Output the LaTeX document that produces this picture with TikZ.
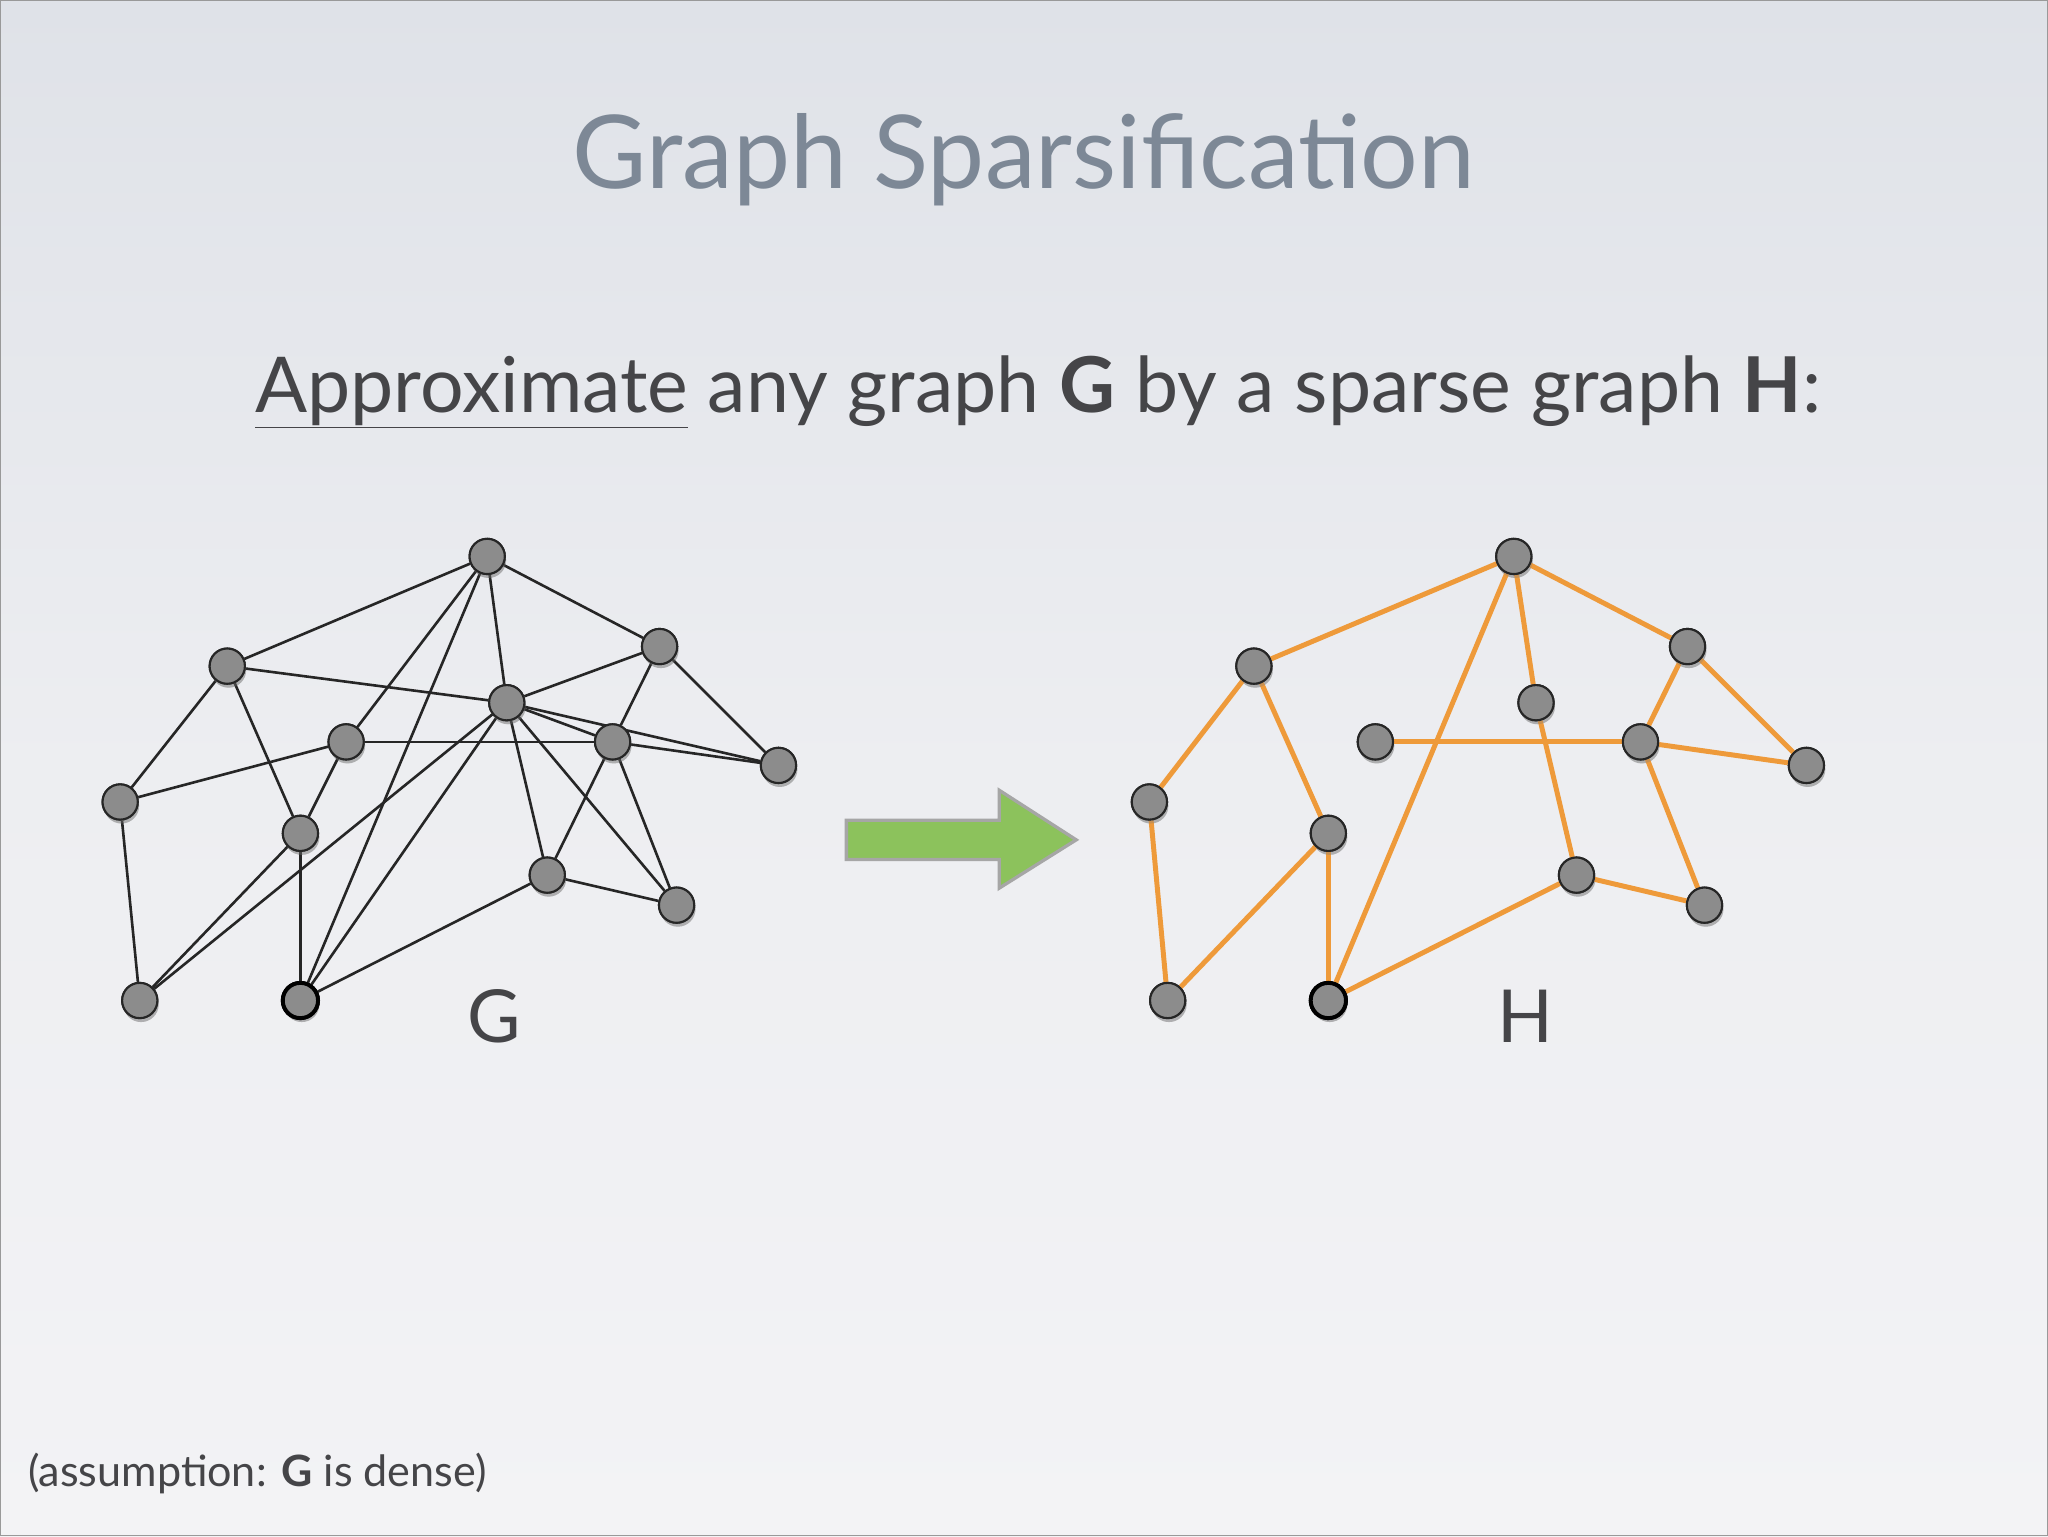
\documentclass[tikz,border=0pt]{standalone}
\usepackage{fontspec}
\setmainfont{Lato}
\usetikzlibrary{shadows}
\definecolor{titlec}{HTML}{7D8896}
\definecolor{textc}{HTML}{454548}
\definecolor{orng}{HTML}{EE9A3A}
\definecolor{grn}{HTML}{8CC25C}
\definecolor{bgtop}{HTML}{DFE2E8}
\definecolor{bgbot}{HTML}{F3F3F5}
\begin{document}
\begin{tikzpicture}[x=1pt,y=-1pt,
  vert/.style={circle,minimum size=27pt,inner sep=0pt,fill=black!45,draw=black!85,line width=1.6pt,
    drop shadow={shadow xshift=1pt,shadow yshift=-3pt,opacity=0.35}},
  vertb/.style={vert,line width=3pt,draw=black},
  ge/.style={line width=2pt,draw=black!85},
  he/.style={line width=3.8pt,draw=orng}]
\shade[top color=bgtop,bottom color=bgbot,middle color=bgbot!70!bgtop] (0,0) rectangle (1568,1176);
\draw[black!40,line width=1pt] (0.5,0.5) rectangle (1567.5,1175.5);
\useasboundingbox (0,0) rectangle (1568,1176);
\node[text=titlec,font=\fontsize{78}{90}\selectfont] (title) at (784,122) {Graph Sparsification};
\node[text=textc,font=\fontsize{59}{70}\selectfont] (sub) at (795,300) {\underline{Approximate} any graph \textbf{G} by a sparse graph \textbf{H}:};
\node[text=textc,font=\fontsize{33}{40}\selectfont,anchor=west] (note) at (18,1128) {(assumption: \textbf{G} is dense)};
% Graph G
\foreach \n/\x/\y in {a/373/426,b/174/510,c/505/495,d/388/538,e/265/568,f/469/568,g/596/586,h/92/614,i/230/638,j/419/670,k/518/693,l/107/766}
  \node[vert] (\n) at (\x,\y) {};
\node[vertb] (m) at (230,766) {};
\foreach \u/\v in {a/b,a/c,a/d,a/e,a/m,d/m,d/l,i/l,b/d,b/h,b/i,c/d,c/f,c/g,d/f,d/g,d/j,d/k,e/f,e/h,e/i,f/g,f/j,f/k,j/k,j/m,h/l,i/m}
  \draw[ge] (\u) -- (\v);
\foreach \n in {a,b,c,d,e,f,g,h,i,j,k,l}
  \node[vert] at (\n) {};
\node[vertb] at (m) {};
\node[text=textc,font=\fontsize{56}{60}\selectfont] (G) at (378,778) {G};
% Arrow
\draw[fill=grn,draw=black!35,line width=2.5pt] (648,628) -- (765,628) -- (765,605) -- (824,643) -- (765,680) -- (765,658) -- (648,658) -- cycle;
% Graph H
\foreach \n/\x/\y in {A/1159/426,B/960/510,C/1292/495,D/1176/538,E/1053/568,F/1256/568,Gg/1383/586,Hh/880/614,I/1017/638,J/1207/670,K/1305/693,L/894/766}
  \node[vert] (\n) at (\x,\y) {};
\node[vertb] (M) at (1017,766) {};
\foreach \u/\v in {A/B,A/C,A/D,A/M,B/Hh,B/I,Hh/L,I/L,I/M,M/J,J/K,D/J,E/F,F/C,F/Gg,C/Gg,F/K}
  \draw[he] (\u) -- (\v);
\foreach \n in {A,B,C,D,E,F,Gg,Hh,I,J,K,L}
  \node[vert] at (\n) {};
\node[vertb] at (M) {};
\node[text=textc,font=\fontsize{56}{60}\selectfont] (H) at (1168,778) {H};
\end{tikzpicture}
\end{document}
